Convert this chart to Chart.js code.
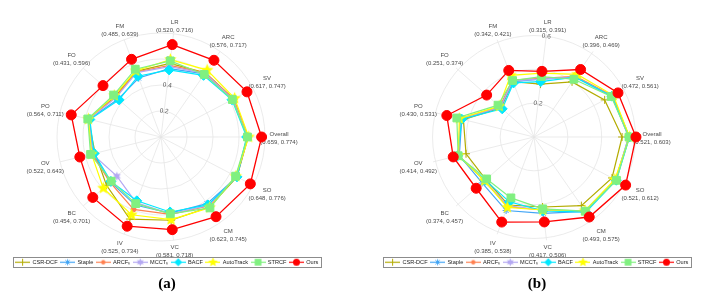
<!DOCTYPE html>
<html>
<head>
<meta charset="utf-8">
<script src="https://cdn.jsdelivr.net/npm/chart.js@4.4.1/dist/chart.umd.min.js"></script>
<style>
body { margin: 0; background: #fff; }
#wrap { position: relative; width: 711px; height: 295px; overflow: hidden; }
canvas { position: absolute; top: 0; }
#ca { left: 0; }
#cb { left: 355px; }
.cap { position: absolute; top: 274px; width: 40px; margin-left: -20px; text-align: center;
       font: bold 15px "Liberation Serif", "Times New Roman", serif; line-height: 18px; color: #000; }
</style>
</head>
<body>
<div id="wrap">
  <canvas id="ca" width="355" height="295"></canvas>
  <canvas id="cb" width="356" height="295"></canvas>
  <div class="cap" style="left:167px">(a)</div>
  <div class="cap" style="left:537px">(b)</div>
</div>
<script>
// attributes, clockwise from the top
const axes = ['LR', 'ARC', 'SV', 'Overall', 'SO', 'CM', 'VC', 'IV', 'BC', 'OV', 'PO', 'FO', 'FM'];

const rangeA = ['(0.520, 0.716)', '(0.576, 0.717)', '(0.617, 0.747)', '(0.659, 0.774)', '(0.648, 0.776)', '(0.623, 0.745)',
  '(0.581, 0.718)', '(0.525, 0.734)', '(0.454, 0.701)', '(0.522, 0.643)', '(0.564, 0.711)', '(0.431, 0.596)', '(0.485, 0.639)'];
const rangeB = ['(0.315, 0.391)', '(0.396, 0.469)', '(0.472, 0.561)', '(0.521, 0.603)', '(0.521, 0.612)', '(0.493, 0.575)',
  '(0.417, 0.506)', '(0.385, 0.538)', '(0.374, 0.457)', '(0.414, 0.492)', '(0.430, 0.531)', '(0.251, 0.374)', '(0.342, 0.421)'];

const trackers = ['CSR-DCF', 'Staple', 'ARCF\u2095', 'MCCT\u2095', 'BACF', 'AutoTrack', 'STRCF', 'Ours'];

// (a)
const csrA    = [0.570, 0.600, 0.630, 0.670, 0.660, 0.655, 0.645, 0.675, 0.560, 0.522, 0.575, 0.470, 0.540];
const stapleA = [0.530, 0.590, 0.625, 0.665, 0.660, 0.623, 0.590, 0.560, 0.520, 0.540, 0.570, 0.440, 0.485];
const arcfA   = [0.555, 0.600, 0.630, 0.670, 0.655, 0.645, 0.600, 0.595, 0.525, 0.545, 0.575, 0.465, 0.535];
const mcctA   = [0.545, 0.595, 0.625, 0.665, 0.655, 0.640, 0.595, 0.540, 0.454, 0.545, 0.570, 0.460, 0.530];
const bacfA   = [0.520, 0.576, 0.617, 0.659, 0.660, 0.635, 0.581, 0.525, 0.515, 0.530, 0.564, 0.431, 0.500];
const autoA   = [0.600, 0.625, 0.640, 0.675, 0.650, 0.660, 0.640, 0.640, 0.593, 0.550, 0.575, 0.480, 0.545];
const strcfA  = [0.590, 0.585, 0.620, 0.665, 0.648, 0.663, 0.595, 0.548, 0.512, 0.558, 0.580, 0.487, 0.558];
const oursA   = [0.716, 0.717, 0.747, 0.774, 0.776, 0.745, 0.718, 0.734, 0.701, 0.643, 0.711, 0.596, 0.639];

// (b)
const csrB    = [0.315, 0.396, 0.472, 0.521, 0.521, 0.493, 0.417, 0.430, 0.380, 0.414, 0.430, 0.260, 0.350];
const stapleB = [0.345, 0.430, 0.520, 0.560, 0.545, 0.535, 0.455, 0.465, 0.410, 0.455, 0.440, 0.265, 0.350];
const arcfB   = [0.350, 0.435, 0.525, 0.565, 0.545, 0.535, 0.435, 0.440, 0.390, 0.460, 0.450, 0.270, 0.360];
const mcctB   = [0.345, 0.430, 0.520, 0.560, 0.545, 0.530, 0.435, 0.435, 0.390, 0.460, 0.450, 0.265, 0.355];
const bacfB   = [0.330, 0.430, 0.520, 0.565, 0.550, 0.540, 0.440, 0.410, 0.385, 0.465, 0.440, 0.251, 0.342];
const autoB   = [0.380, 0.450, 0.530, 0.565, 0.540, 0.530, 0.435, 0.445, 0.390, 0.460, 0.455, 0.275, 0.390];
const strcfB  = [0.360, 0.415, 0.516, 0.562, 0.551, 0.533, 0.428, 0.385, 0.374, 0.462, 0.470, 0.284, 0.357];
const oursB   = [0.391, 0.485, 0.561, 0.603, 0.612, 0.575, 0.506, 0.538, 0.457, 0.492, 0.531, 0.374, 0.421];

const tickLabels = [0.2, 0.4, 0.6];

const colors = ['#b3ab00', '#42a5f5', '#ff8050', '#b4a8f2', '#00e8ff', '#ffff00', '#80f080', '#ff0000'];
const kinds  = ['plus', 'aster', 'dot', 'star6', 'diamond', 'star5', 'square', 'bigdot'];

function shape(ctx, kind, color, x, y, r) {
  ctx.fillStyle = color;
  ctx.strokeStyle = color;
  ctx.lineWidth = 1;
  ctx.beginPath();
  if (kind === 'plus') {
    ctx.moveTo(x - r, y); ctx.lineTo(x + r, y);
    ctx.moveTo(x, y - r); ctx.lineTo(x, y + r);
    ctx.stroke();
  } else if (kind === 'aster') {
    for (let k = 0; k < 4; k++) {
      const a = k * Math.PI / 4;
      ctx.moveTo(x - r * Math.cos(a), y - r * Math.sin(a));
      ctx.lineTo(x + r * Math.cos(a), y + r * Math.sin(a));
    }
    ctx.stroke();
  } else if (kind === 'dot' || kind === 'bigdot') {
    ctx.arc(x, y, r, 0, Math.PI * 2);
    ctx.fill();
  } else if (kind === 'diamond') {
    ctx.moveTo(x, y - r); ctx.lineTo(x + r, y); ctx.lineTo(x, y + r); ctx.lineTo(x - r, y);
    ctx.closePath(); ctx.fill();
  } else if (kind === 'square') {
    ctx.rect(x - r * 0.75, y - r * 0.75, r * 1.5, r * 1.5);
    ctx.fill();
  } else {
    const n = kind === 'star5' ? 5 : 6;
    const inner = kind === 'star5' ? 0.45 : 0.5;
    for (let k = 0; k < n * 2; k++) {
      const a = -Math.PI / 2 + k * Math.PI / n;
      const rr = k % 2 ? r * inner : r;
      ctx.lineTo(x + rr * Math.cos(a), y + rr * Math.sin(a));
    }
    ctx.closePath(); ctx.fill();
  }
}

function markImg(kind, color, r) {
  const c = document.createElement('canvas');
  c.width = c.height = Math.ceil(r * 2 + 2);
  shape(c.getContext('2d'), kind, color, c.width / 2, c.height / 2, r);
  return c;
}

const legendSize = {plus: 3.5, aster: 3, dot: 2.2, star6: 4, diamond: 4, star5: 5, square: 4.5, bigdot: 3.5};

function legendImg(i) {
  const c = document.createElement('canvas');
  c.width = 15; c.height = 11;
  const ctx = c.getContext('2d');
  ctx.strokeStyle = colors[i];
  ctx.lineWidth = 1.2;
  ctx.beginPath(); ctx.moveTo(0, 5.5); ctx.lineTo(15, 5.5); ctx.stroke();
  shape(ctx, kinds[i], colors[i], 7.5, 5.5, legendSize[kinds[i]]);
  return c;
}

const pointStyles = ['cross', 'star', 'circle', markImg('star6', colors[3], 4.5), 'rectRot',
  markImg('star5', colors[5], 6.5), 'rect', 'circle'];
const pointSizes = [4, 3.5, 2.5, 5, 5, 5, 5.5, 5];

function labelPlugin(ranges) {
  return {
    id: 'axisLabels',
    beforeDatasetsDraw(chart) {
      const s = chart.scales.r;
      const ctx = chart.ctx;
      ctx.save();
      ctx.font = '6px "Liberation Sans", Arial, sans-serif';
      ctx.fillStyle = '#4a4a4a';
      ctx.textAlign = 'center';
      ctx.textBaseline = 'middle';
      axes.forEach((name, i) => {
        const a = s.getIndexAngle(i);
        const d = s.drawingArea + 8 + 6 * Math.abs(Math.sin(a)) + 3 * Math.abs(Math.sin(2 * a));
        const p = s.getPointPosition(i, d);
        ctx.fillText(name, p.x, p.y - 2.5);
        ctx.fillText(ranges[i], p.x, p.y + 5.5);
      });
      ctx.restore();
    }
  };
}

const legendFrame = {
  id: 'legendFrame',
  afterDraw(chart) {
    const b = chart.legend.legendHitBoxes;
    if (!b || !b.length) return;
    const last = b[b.length - 1];
    const l = Math.round(b[0].left - 3), r = Math.round(last.left + last.width + 3);
    const t = Math.round(b[0].top - 2), h = Math.round(b[0].height + 4);
    const ctx = chart.ctx;
    ctx.save();
    ctx.strokeStyle = '#8c8c8c';
    ctx.lineWidth = 1;
    ctx.strokeRect(l + 0.5, t + 0.5, r - l, h);
    ctx.restore();
  }
};

function makeChart(id, series, ranges, max, padL, padR, shift) {
  const datasets = series.map((vals, i) => ({
    label: trackers[i],
    data: vals,
    borderColor: colors[i],
    backgroundColor: colors[i],
    pointBackgroundColor: colors[i],
    pointBorderColor: colors[i],
    pointBorderWidth: 1,
    pointStyle: pointStyles[i],
    pointRadius: pointSizes[i],
    borderWidth: i === 7 ? 1.3 : 1.2,
    fill: false,
    tension: 0,
    order: series.length - i
  }));

  return new Chart(document.getElementById(id), {
    type: 'radar',
    data: { labels: axes, datasets: datasets },
    options: {
      responsive: false,
      devicePixelRatio: 1,
      animation: false,
      events: [],
      layout: { padding: { left: padL, right: padR, top: 18, bottom: 20 } },
      scales: {
        r: {
          min: 0,
          max: max,
          startAngle: 6.92,
          grid: { circular: true, color: '#e6e6e6', lineWidth: 0.8 },
          angleLines: { color: '#e6e6e6', lineWidth: 0.8 },
          pointLabels: { display: false },
          ticks: {
            stepSize: 0.2,
            includeBounds: false,
            color: '#555',
            font: { size: 6.5, family: '"Liberation Sans", Arial, sans-serif' },
            showLabelBackdrop: false,
            backdropPadding: { top: 11.75, bottom: 11.75, left: 2, right: 2 },
            callback: v => tickLabels.some(t => Math.abs(v - t) < 1e-6) ? v.toFixed(1) : ''
          }
        },
        // empty strip so the plot centre sits a little left of the legend centre
        pad: {
          type: 'linear',
          position: 'right',
          display: true,
          grid: { display: false },
          border: { display: false },
          ticks: { display: false },
          afterFit: s => { s.width = shift; }
        }
      },
      plugins: {
        tooltip: { enabled: false },
        legend: {
          position: 'bottom',
          align: 'center',
          labels: {
            usePointStyle: true,
            pointStyleWidth: 14,
            padding: 3,
            color: '#222',
            font: { size: 5.6, family: '"Liberation Sans Narrow", "Liberation Sans", Arial, sans-serif' },
            generateLabels: chart => chart.data.datasets.map((ds, i) => ({
              text: ds.label,
              fillStyle: colors[i],
              strokeStyle: colors[i],
              lineWidth: 0,
              pointStyle: legendImg(i),
              fontColor: '#222',
              hidden: false,
              datasetIndex: i
            }))
          }
        }
      }
    },
    plugins: [labelPlugin(ranges), legendFrame]
  });
}

makeChart('ca', [csrA, stapleA, arcfA, mcctA, bacfA, autoA, strcfA, oursA], rangeA, 0.8, 6, 27, 12);
makeChart('cb', [csrB, stapleB, arcfB, mcctB, bacfB, autoB, strcfB, oursB], rangeB, 0.615, 20, 12, 6);
</script>
</body>
</html>
